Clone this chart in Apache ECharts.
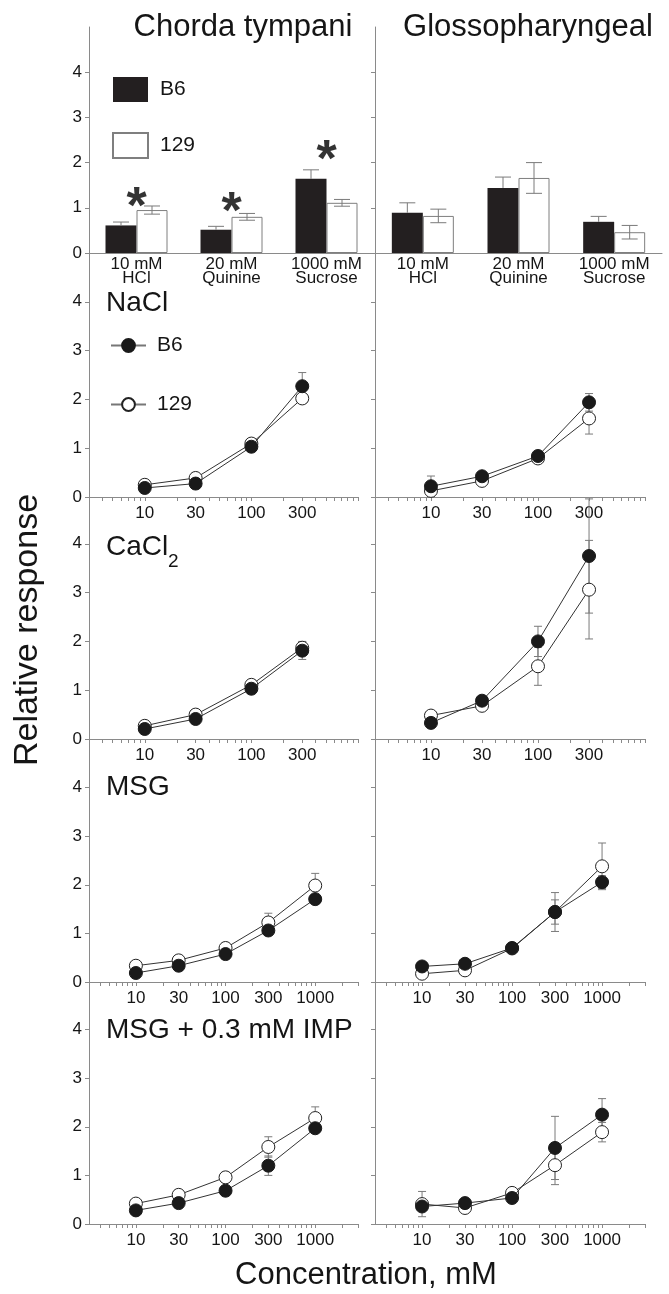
<!DOCTYPE html>
<html><head><meta charset="utf-8">
<script src="https://cdn.jsdelivr.net/npm/echarts@6/dist/echarts.min.js"></script>
<style>html,body{margin:0;padding:0;background:#fff}#c{width:669px;height:1294px}</style>
</head><body><div id="c"></div>
<script>
// ---------- DATA ----------
const barCategories = ['10 mM\nHCl', '20 mM\nQuinine', '1000 mM\nSucrose'];
const ctBarB6 = [0.61, 0.515, 1.64];
const ctBarB6Err = [0.075, 0.075, 0.2];
const ctBar129 = [0.95, 0.80, 1.11];
const ctBar129Err = [0.09, 0.075, 0.075];
const glBarB6 = [0.89, 1.44, 0.69];
const glBarB6Err = [0.22, 0.24, 0.12];
const glBar129 = [0.82, 1.66, 0.46];
const glBar129Err = [0.15, 0.34, 0.15];
const starY = [0.99, 0.86, 2.03];

const saltConc = [10, 30, 100, 300];
const msgConc = [10, 30, 100, 300, 1000];
const saltTickLabels = [10, 30, 100, 300];
const msgTickLabels = [10, 30, 100, 300, 1000];
const yTickLabels = [0, 1, 2, 3, 4];

const naclCtB6 = [0.185, 0.275, 1.03, 2.27];
const naclCtB6Err = [0.04, 0.04, 0.06, 0.28];
const naclCt129 = [0.25, 0.39, 1.095, 2.02];
const naclCt129Err = [0.04, 0.04, 0.05, 0.1];
const naclGlB6 = [0.22, 0.425, 0.84, 1.94];
const naclGlB6Err = [0.21, 0.06, 0.05, 0.18];
const naclGl129 = [0.125, 0.33, 0.79, 1.61];
const naclGl129Err = [0.05, 0.05, 0.05, 0.32];

const caclCtB6 = [0.205, 0.41, 1.03, 1.81];
const caclCtB6Err = [0.04, 0.05, 0.06, 0.18];
const caclCt129 = [0.27, 0.5, 1.11, 1.87];
const caclCt129Err = [0.04, 0.05, 0.05, 0.13];
const caclGlB6 = [0.33, 0.785, 2.0, 3.75];
const caclGlB6Err = [0.05, 0.08, 0.31, 1.17];
const caclGl129 = [0.48, 0.68, 1.49, 3.06];
const caclGl129Err = [0.05, 0.06, 0.39, 1.01];

const msgCtB6 = [0.185, 0.335, 0.575, 1.06, 1.705];
const msgCtB6Err = [0.04, 0.04, 0.05, 0.1, 0.08];
const msgCt129 = [0.335, 0.445, 0.7, 1.225, 1.985];
const msgCt129Err = [0.04, 0.04, 0.05, 0.19, 0.25];
const msgGlB6 = [0.32, 0.375, 0.7, 1.44, 2.055];
const msgGlB6Err = [0.05, 0.05, 0.05, 0.25, 0.13];
const msgGl129 = [0.17, 0.24, 0.69, 1.44, 2.38];
const msgGl129Err = [0.05, 0.05, 0.05, 0.4, 0.48];

const impCtB6 = [0.28, 0.43, 0.685, 1.2, 1.97];
const impCtB6Err = [0.04, 0.04, 0.05, 0.2, 0.08];
const impCt129 = [0.42, 0.6, 0.96, 1.585, 2.18];
const impCt129Err = [0.04, 0.04, 0.06, 0.21, 0.23];
const impGlB6 = [0.36, 0.43, 0.535, 1.565, 2.25];
const impGlB6Err = [0.05, 0.05, 0.05, 0.65, 0.33];
const impGl129 = [0.41, 0.33, 0.64, 1.21, 1.89];
const impGl129Err = [0.26, 0.05, 0.05, 0.4, 0.2];

// ---------- LAYOUT / STYLE ----------
const FONT = "'Liberation Sans', Arial, Helvetica, sans-serif";
const AXIS_COLOR = '#8a8a8a';
const TEXT_COLOR = '#151515';
const ERR_COLOR = '#7a7a7a';
const rowTop = [27, 253, 495, 739, 981];
const rowH = [226, 244, 244, 243, 243];
const colLeft = [89, 375];
const barW = [285, 287];
const lineW = [269, 270];

const linePanels = [
  { conc: saltConc, labels: saltTickLabels, max: 1000, cols: [[naclCtB6, naclCtB6Err, naclCt129, naclCt129Err], [naclGlB6, naclGlB6Err, naclGl129, naclGl129Err]] },
  { conc: saltConc, labels: saltTickLabels, max: 1000, cols: [[caclCtB6, caclCtB6Err, caclCt129, caclCt129Err], [caclGlB6, caclGlB6Err, caclGl129, caclGl129Err]] },
  { conc: msgConc, labels: msgTickLabels, max: 3000, cols: [[msgCtB6, msgCtB6Err, msgCt129, msgCt129Err], [msgGlB6, msgGlB6Err, msgGl129, msgGl129Err]] },
  { conc: msgConc, labels: msgTickLabels, max: 3000, cols: [[impCtB6, impCtB6Err, impCt129, impCt129Err], [impGlB6, impGlB6Err, impGl129, impGl129Err]] }
];

function logTicks(maxV) {
  const t = [];
  for (let d = 1; d <= 1000; d *= 10) {
    for (let k = 1; k <= 9; k++) {
      const v = k * d;
      if (v >= 4 && v <= maxV) t.push(Math.log10(v));
    }
  }
  return t;
}

function errRender(offset, drawUpper, drawLower, cap) {
  return function (params, api) {
    const x = api.value(0), m = api.value(1), e = api.value(2);
    const mid = api.coord([x, m]);
    const hi = api.coord([x, m + e]);
    const lo = api.coord([x, m - e]);
    const cx = mid[0] + offset;
    const top = drawUpper ? hi[1] : mid[1];
    const bot = drawLower ? lo[1] : mid[1];
    const st = { stroke: ERR_COLOR, lineWidth: 1 };
    const ch = [{ type: 'line', shape: { x1: cx, y1: top, x2: cx, y2: bot }, style: st }];
    if (drawUpper) ch.push({ type: 'line', shape: { x1: cx - cap, y1: hi[1], x2: cx + cap, y2: hi[1] }, style: st });
    if (drawLower) ch.push({ type: 'line', shape: { x1: cx - cap, y1: lo[1], x2: cx + cap, y2: lo[1] }, style: st });
    return { type: 'group', children: ch };
  };
}

const grid = [], xAxis = [], yAxis = [], series = [];

function yAx(gi, col) {
  return {
    type: 'value', gridIndex: gi, min: 0, max: 5, interval: 1,
    axisLine: { show: true, lineStyle: { color: AXIS_COLOR, width: 1 } },
    axisTick: { show: true, length: 4, customValues: yTickLabels, lineStyle: { color: AXIS_COLOR } },
    axisLabel: { show: col === 0, customValues: yTickLabels, margin: 7, fontSize: 17, color: TEXT_COLOR, fontFamily: FONT },
    splitLine: { show: false }
  };
}

// bar panels
const barSets = [[ctBarB6, ctBarB6Err, ctBar129, ctBar129Err], [glBarB6, glBarB6Err, glBar129, glBar129Err]];
for (let c = 0; c < 2; c++) {
  const gi = grid.length;
  grid.push({ left: colLeft[c], top: rowTop[0], width: barW[c], height: rowH[0], containLabel: false });
  xAxis.push({
    type: 'category', gridIndex: gi, data: barCategories,
    axisLine: { show: true, lineStyle: { color: AXIS_COLOR } },
    axisTick: { show: false },
    axisLabel: { fontSize: 17, lineHeight: 14, margin: 4, color: TEXT_COLOR, fontFamily: FONT, interval: 0 }
  });
  yAxis.push(yAx(gi, c));
  const [b6, b6e, s129, s129e] = barSets[c];
  series.push({ type: 'bar', name: 'B6', xAxisIndex: gi, yAxisIndex: gi, data: b6, barWidth: 31, barGap: '0%', itemStyle: { color: '#231f20' }, z: 2 });
  series.push({ type: 'bar', name: '129', xAxisIndex: gi, yAxisIndex: gi, data: s129, barWidth: 31, barGap: '0%', itemStyle: { color: '#ffffff', borderColor: '#7f7f7f', borderWidth: 1 }, z: 2 });
  series.push({ type: 'custom', xAxisIndex: gi, yAxisIndex: gi, z: 3, renderItem: errRender(-15.5, true, false, 8), encode: { x: 0, y: 1 },
    data: b6.map((v, i) => [i, v, b6e[i]]) });
  series.push({ type: 'custom', xAxisIndex: gi, yAxisIndex: gi, z: 3, renderItem: errRender(15.5, true, true, 8), encode: { x: 0, y: 1 },
    data: s129.map((v, i) => [i, v, s129e[i]]) });
  if (c === 0) {
    series.push({ type: 'scatter', xAxisIndex: gi, yAxisIndex: gi, symbol: 'circle', symbolSize: 2,
      itemStyle: { color: 'rgba(255,255,255,0)' }, z: 5, silent: true,
      data: starY.map((v, i) => [i, v]),
      label: { show: true, position: 'inside', formatter: '*', fontSize: 52, fontWeight: 'bold', color: '#000000', fontFamily: FONT } });
  }
}

// line panels
linePanels.forEach((p, r) => {
  for (let c = 0; c < 2; c++) {
    const gi = grid.length;
    grid.push({ left: colLeft[c], top: rowTop[r + 1], width: lineW[c], height: rowH[r + 1], containLabel: false });
    xAxis.push({
      type: 'value', gridIndex: gi, min: Math.log10(3), max: Math.log10(p.max),
      axisLine: { show: true, onZero: false, lineStyle: { color: AXIS_COLOR } },
      axisTick: { show: true, length: 4, customValues: logTicks(p.max), lineStyle: { color: AXIS_COLOR } },
      axisLabel: { customValues: p.labels.map(v => Math.log10(v)), formatter: v => String(Math.round(Math.pow(10, v))),
        fontSize: 17, margin: 8, color: TEXT_COLOR, fontFamily: FONT },
      splitLine: { show: false }
    });
    yAxis.push(yAx(gi, c));
    const [b6, b6e, s129, s129e] = p.cols[c];
    const lx = p.conc.map(v => Math.log10(v));
    series.push({ type: 'custom', xAxisIndex: gi, yAxisIndex: gi, z: 1, renderItem: errRender(0, true, true, 4), encode: { x: 0, y: 1 },
      data: s129.map((v, i) => [lx[i], v, s129e[i]]) });
    series.push({ type: 'custom', xAxisIndex: gi, yAxisIndex: gi, z: 1, renderItem: errRender(0, true, true, 4), encode: { x: 0, y: 1 },
      data: b6.map((v, i) => [lx[i], v, b6e[i]]) });
    series.push({ type: 'line', xAxisIndex: gi, yAxisIndex: gi, z: 2, symbol: 'circle', symbolSize: 13, showAllSymbol: true,
      lineStyle: { color: '#333', width: 1 }, itemStyle: { color: '#ffffff', borderColor: '#222', borderWidth: 1 },
      data: s129.map((v, i) => [lx[i], v]) });
    series.push({ type: 'line', xAxisIndex: gi, yAxisIndex: gi, z: 3, symbol: 'circle', symbolSize: 13, showAllSymbol: true,
      lineStyle: { color: '#333', width: 1 }, itemStyle: { color: '#1a1a1a', borderColor: '#1a1a1a', borderWidth: 1 },
      data: b6.map((v, i) => [lx[i], v]) });
  }
});

// legend-only line series
series.push({ type: 'line', name: 'B6 line', xAxisIndex: 2, yAxisIndex: 2, data: [], symbol: 'circle',
  lineStyle: { color: '#777', width: 1 }, itemStyle: { color: '#1a1a1a', borderColor: '#1a1a1a', borderWidth: 1 } });
series.push({ type: 'line', name: '129 line', xAxisIndex: 2, yAxisIndex: 2, data: [], symbol: 'circle',
  lineStyle: { color: '#777', width: 1 }, itemStyle: { color: '#ffffff', borderColor: '#222', borderWidth: 1 } });

function txt(text, x, y, size, align, extra) {
  return Object.assign({ type: 'text', x: x, y: y, z: 10,
    style: { text: text, font: size + 'px ' + FONT, fill: TEXT_COLOR, textAlign: align || 'left', textVerticalAlign: 'middle' } }, extra || {});
}

const option = {
  animation: false,
  backgroundColor: '#ffffff',
  grid, xAxis, yAxis, series,
  legend: [
    { data: ['B6', '129'], left: 107, top: 72, orient: 'vertical', icon: 'rect', itemWidth: 35, itemHeight: 25, itemGap: 30,
      selectedMode: false, textStyle: { fontSize: 21, color: TEXT_COLOR, fontFamily: FONT, padding: [0, 0, 0, 7] } },
    { data: ['B6 line', '129 line'], formatter: n => n.replace(' line', ''), left: 105, top: 330, orient: 'vertical',
      itemWidth: 35, itemHeight: 16, itemGap: 38, selectedMode: false,
      textStyle: { fontSize: 21, color: TEXT_COLOR, fontFamily: FONT, padding: [0, 0, 0, 6] } }
  ],
  graphic: [
    txt('Chorda tympani', 243, 27, 31, 'center'),
    txt('Glossopharyngeal', 528, 27, 31, 'center'),
    txt('NaCl', 106, 303, 28),
    txt('CaCl', 106, 547, 28),
    txt('2', 168, 562, 19),
    txt('MSG', 106, 787, 28),
    txt('MSG + 0.3 mM IMP', 106, 1030, 28),
    txt('Concentration, mM', 366, 1275, 31, 'center'),
    txt('Relative response', 28, 630, 34, 'center', { rotation: Math.PI / 2 })
  ]
};

const chart = echarts.init(document.getElementById('c'), null, { renderer: 'canvas' });
chart.setOption(option);
</script>
</body></html>
